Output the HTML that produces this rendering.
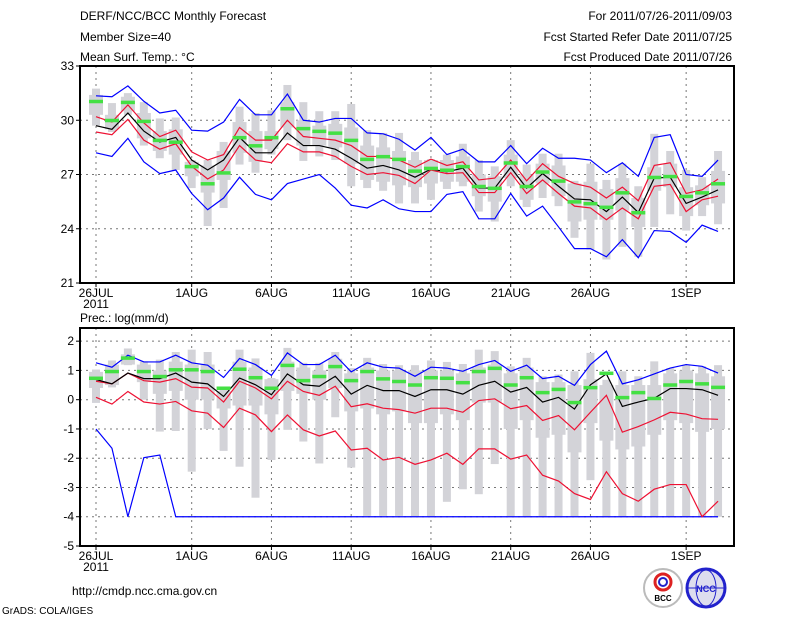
<!DOCTYPE html>
<html><head><meta charset="utf-8"><style>
body{margin:0;background:#fff;width:800px;height:618px;overflow:hidden;font-family:"Liberation Sans",sans-serif}
svg text{font-family:"Liberation Sans",sans-serif;font-size:12px;fill:#000}
</style></head><body>
<svg id="c" width="800" height="618" viewBox="0 0 800 618">
<g>
<text x="80" y="20">DERF/NCC/BCC Monthly Forecast</text>
<text x="80" y="41">Member Size=40</text>
<text x="80" y="61">Mean Surf. Temp.: °C</text>
<text x="732" y="20" text-anchor="end">For 2011/07/26-2011/09/03</text>
<text x="732" y="41" text-anchor="end">Fcst Started Refer Date 2011/07/25</text>
<text x="732" y="61" text-anchor="end">Fcst Produced Date 2011/07/26</text>
<text x="80" y="322">Prec.: log(mm/d)</text>
<text x="72" y="595">http://cmdp.ncc.cma.gov.cn</text>
<text x="2" y="614" style="font-size:10px">GrADS: COLA/IGES</text>
</g>
<g><circle cx="663" cy="588" r="19" fill="#fff" stroke="#bbb" stroke-width="2"/><circle cx="663" cy="582" r="8" fill="none" stroke="#d22" stroke-width="3"/><circle cx="663" cy="582" r="4" fill="none" stroke="#22c" stroke-width="2"/><text x="663" y="601" text-anchor="middle" style="font-size:8px;font-weight:bold">BCC</text></g>
<g><circle cx="706" cy="588" r="19" fill="#dde" stroke="#22c" stroke-width="3"/><ellipse cx="706" cy="588" rx="10" ry="18" fill="none" stroke="#22c"/><line x1="688" y1="588" x2="724" y2="588" stroke="#22c"/><text x="706" y="592" text-anchor="middle" style="font-size:9px;fill:#22c;font-weight:bold">NCC</text></g>
<g id="p1"></g><g id="p2"></g>
</svg>
<script>
const days=[0,1,2,3,4,5,6,7,8,9,10,11,12,13,14,15,16,17,18,19,20,21,22,23,24,25,26,27,28,29,30,31,32,33,34,35,36,37,38,39];
const dateLabels=["26JUL","1AUG","6AUG","11AUG","16AUG","21AUG","26AUG","1SEP"];
const dateDays=[0,6,11,16,21,26,31,37];
const tTicks=[21,24,27,30,33];
const pTicks=[-5,-4,-3,-2,-1,0,1,2];
const tMean=[29.7,29.5,30.4,29.4,28.8,29.05,27.8,27.25,27.8,29.05,28.2,28.2,29.3,28.6,28.6,28.4,27.9,27.35,27.5,27.25,26.85,27.3,27.15,27.35,26.25,26.25,27.4,26.25,27.05,26.35,25.65,25.6,24.95,25.75,24.9,26.8,26.85,25.4,25.75,26.15];
const tRedHi=[30.2,29.9,30.85,29.85,29.1,29.45,28.25,27.8,28.1,29.6,28.9,28.9,30.0,29.1,29.0,28.9,28.6,28.0,28.0,27.8,27.4,27.85,27.5,27.7,26.7,26.8,27.8,26.65,27.6,26.9,26.5,26.3,25.7,26.3,25.55,27.5,27.65,25.95,26.15,26.75];
const tRedLo=[29.35,29.2,30.05,28.9,28.4,28.7,27.45,26.75,27.25,28.6,27.8,27.65,28.7,28.25,28.25,28.0,27.45,27.0,27.1,26.95,26.5,27.25,27.05,27.1,26.0,26.0,27.1,25.95,26.7,25.95,25.25,25.15,24.5,25.15,24.55,26.35,26.45,24.95,25.6,25.8];
const tBlueHi=[31.35,31.3,31.9,31.05,30.4,30.55,29.45,29.4,29.9,31.15,30.3,30.3,31.45,30.0,29.9,30.1,30.1,29.3,29.25,28.95,28.35,29.05,28.1,28.4,27.7,27.7,28.6,27.6,28.45,27.9,27.9,27.8,27.1,27.65,26.9,29.05,29.2,27.0,26.9,27.8];
const tBlueLo=[28.2,28.0,29.0,27.7,27.05,27.25,25.95,25.05,25.7,26.85,25.9,25.6,26.5,26.75,27.0,26.25,25.3,25.15,25.6,25.1,24.95,24.95,25.9,26.05,24.55,24.55,25.95,24.7,25.25,24.1,22.9,22.9,22.45,23.4,22.4,23.9,23.85,23.25,24.2,23.85];
const tGreen=[31.05,30.0,31.0,29.95,28.9,28.8,27.45,26.5,27.1,29.05,28.6,29.05,30.65,29.55,29.4,29.3,28.9,27.85,28.0,27.85,27.2,27.35,27.25,27.45,26.35,26.25,27.65,26.35,27.15,26.65,25.5,25.4,25.2,26.0,24.9,26.85,26.9,25.8,26.0,26.5];
const tMax=[31.75,30.95,31.5,31.0,30.1,30.15,27.8,27.8,28.8,30.75,30.4,30.55,31.95,31.0,30.5,30.5,30.9,29.45,29.3,29.3,28.25,27.85,28.1,28.7,27.8,27.45,28.9,27.55,28.15,28.15,26.65,27.6,26.7,27.6,26.35,29.25,28.3,27.25,26.85,28.3];
const tMin=[29.7,29.35,30.3,28.6,27.9,27.25,26.25,24.15,25.15,27.55,27.1,28.1,28.9,27.75,28.0,27.8,26.35,26.25,26.1,25.4,25.4,25.6,26.2,26.35,24.95,24.4,26.35,25.2,25.7,25.25,23.5,22.85,22.3,23.0,22.45,24.1,24.8,23.9,24.7,24.25];
const tQ3=[31.4,30.3,31.3,30.4,29.4,29.5,27.7,27.5,28.3,29.9,29.4,29.4,31.0,30.0,29.7,29.8,29.6,28.6,28.5,28.3,27.8,27.8,27.8,28.0,27.0,26.9,28.1,27.0,27.6,27.5,26.5,26.6,26.2,26.8,25.7,27.4,27.6,26.3,26.4,27.2];
const tQ1=[30.3,29.5,30.5,29.0,28.3,28.1,26.9,26.0,26.7,28.2,27.7,28.4,29.6,28.6,28.6,28.5,27.6,26.7,26.6,26.4,26.3,26.5,26.6,26.6,25.8,25.5,26.8,25.6,26.5,25.8,24.4,24.5,24.5,25.0,24.1,26.1,26.3,24.7,25.3,25.4];
const pMean=[0.69,0.54,0.91,0.72,0.72,0.91,0.6,0.54,0.11,0.74,0.51,0.17,0.88,0.51,0.46,0.8,0.19,0.49,0.31,0.31,0.11,0.34,0.34,0.19,0.49,0.63,0.26,0.42,-0.08,0.08,-0.32,0.51,0.88,-0.23,-0.08,0.05,0.38,0.38,0.34,0.15];
const pRedHi=[0.63,0.54,0.91,0.65,0.6,0.72,0.43,0.4,-0.08,0.63,0.4,0.03,0.63,0.28,0.15,0.46,-0.24,-0.14,-0.29,-0.34,-0.46,-0.29,-0.29,-0.43,-0.03,0.03,-0.31,-0.2,-0.71,-0.54,-1.03,-0.43,0.15,-1.11,-0.92,-0.69,-0.43,-0.49,-0.65,-0.67];
const pRedLo=[0.08,-0.15,0.28,-0.08,-0.15,-0.06,-0.38,-0.46,-0.95,-0.29,-0.52,-1.09,-0.52,-1.03,-1.24,-1.07,-1.72,-1.66,-2.06,-1.97,-2.21,-2.06,-1.83,-2.21,-1.68,-1.68,-2.03,-1.89,-2.58,-2.78,-3.21,-3.41,-2.46,-3.21,-3.47,-3.06,-2.9,-2.9,-4.0,-3.47];
const pBlueHi=[1.26,1.11,1.52,1.29,1.29,1.52,1.26,1.18,0.76,1.41,1.2,0.83,1.6,1.2,1.2,1.52,0.95,1.26,1.11,1.08,0.8,1.11,1.08,0.97,1.2,1.34,0.97,1.18,0.72,0.8,0.49,1.2,1.66,0.54,0.68,0.88,1.08,1.2,1.14,0.91];
const pBlueLo=[-1.0,-1.66,-4.0,-1.98,-1.89,-4,-4,-4,-4,-4,-4,-4,-4,-4,-4,-4,-4,-4,-4,-4,-4,-4,-4,-4,-4,-4,-4,-4,-4,-4,-4,-4,-4,-4,-4,-4,-4,-4,-4,-4];
const pGreen=[0.74,0.97,1.43,0.97,0.8,1.03,1.03,0.97,0.4,1.05,0.76,0.4,1.18,0.66,0.8,1.14,0.66,0.97,0.72,0.63,0.51,0.76,0.74,0.59,0.97,1.08,0.51,0.76,0.25,0.36,-0.09,0.42,0.91,0.08,0.25,0.05,0.51,0.63,0.55,0.43];
const pMax=[1.03,1.34,1.75,1.31,1.37,1.63,1.71,1.63,0.34,1.71,1.41,0.74,1.77,1.26,1.26,1.63,1.08,1.43,1.22,1.18,1.18,1.34,1.29,1.22,1.71,1.66,1.14,1.43,0.8,0.86,0.97,1.6,0.68,0.97,0.8,1.31,1.08,1.18,1.14,1.18];
const pMin=[-0.11,0.42,1.18,0.0,-1.09,-1.07,-2.46,-1.0,-1.75,-2.29,-3.35,-2.06,-1.03,-1.43,-2.18,-0.6,-2.32,-3.97,-3.97,-3.97,-4,-4,-3.49,-3.06,-3.23,-2.2,-4,-4,-4,-4,-4,-2.75,-4,-4,-4,-4,-4,-4,-4,-4];
const pQ3=[0.95,1.2,1.55,1.2,1.0,1.3,1.2,1.2,0.3,1.3,1.1,0.7,1.3,1.1,1.0,1.4,0.9,1.1,1.0,1.0,1.0,1.0,1.0,0.9,1.1,1.2,0.9,1.1,0.6,0.6,0.5,0.7,0.5,0.5,0.5,0.5,0.9,1.0,0.9,0.8];
const pQ1=[0.4,0.5,1.2,0.6,0.2,0.3,0.0,0.0,-0.3,-0.2,-0.2,-0.5,0.3,0.2,0.0,0.4,-0.4,-0.3,-0.5,-0.4,-0.8,-0.8,-0.5,-0.7,-0.1,-0.1,-1.0,-0.7,-1.3,-1.2,-1.8,-0.8,-1.4,-1.7,-1.6,-1.2,-0.7,-0.8,-1.1,-1.0];

const NS='http://www.w3.org/2000/svg';
const X0=80,X1=734;
function xs(d){return 96+d*15.95;}
function mk(p,tag,at){const e=document.createElementNS(NS,tag);for(const k in at)e.setAttribute(k,at[k]);p.appendChild(e);return e;}
function panel(g,top,bot,vmin,vmax,ticks,series,name){
  const ys=v=>bot-(v-vmin)/(vmax-vmin)*(bot-top);
  // grid
  ticks.forEach(t=>{if(t>vmin&&t<vmax){const l=mk(g,'line',{x1:X0,x2:X1,y1:ys(t),y2:ys(t),stroke:'#777','stroke-dasharray':'2,4','stroke-width':1});
  
  }});
  dateDays.forEach(d=>{const l=mk(g,'line',{x1:xs(d),x2:xs(d),y1:top,y2:bot,stroke:'#777','stroke-dasharray':'2,4','stroke-width':1});
  
  });
  // boxes
  days.forEach(d=>{const x=xs(d);
    const w=mk(g,'rect',{x:x-4,y:ys(series.max[d]),width:8,height:ys(series.min[d])-ys(series.max[d]),fill:'#d3d3d8'});
    
    
    const b=mk(g,'rect',{x:x-7,y:ys(series.q3[d]),width:14,height:Math.max(0,ys(series.q1[d])-ys(series.q3[d])),fill:'#d3d3d8'});
    
    });
  const line=(arr,col,nm)=>{const p=mk(g,'polyline',{points:days.map(d=>xs(d)+','+ys(arr[d])).join(' '),fill:'none',stroke:col,'stroke-width':1.2});
    
    };
  line(series.bhi,'#0000ff','blue-upper-line');line(series.blo,'#0000ff','blue-lower-line');
  line(series.rhi,'#ee1133','red-upper-line');line(series.rlo,'#ee1133','red-lower-line');
  line(series.mean,'#000','ensemble-mean-line');
  days.forEach(d=>{const r=mk(g,'rect',{x:xs(d)-7,y:ys(series.g[d])-1.5,width:14,height:3.5,fill:'#44e044'});
    
    });
  const f=mk(g,'rect',{x:X0,y:top,width:X1-X0,height:bot-top,fill:'none',stroke:'#000','stroke-width':2});
  
  
  ticks.forEach(t=>{const y=ys(t);mk(g,'line',{x1:X0-4,x2:X0,y1:y,y2:y,stroke:'#000'});
    const tx=mk(g,'text',{x:X0-6,y:y+4,'text-anchor':'end'});tx.textContent=t;
    
    });
  dateDays.forEach((d,i)=>{mk(g,'line',{x1:xs(d),x2:xs(d),y1:bot,y2:bot+4,stroke:'#000'});
    const tx=mk(g,'text',{x:xs(d),y:bot+14,'text-anchor':'middle'});tx.textContent=dateLabels[i];
    
    });
  const yr=mk(g,'text',{x:xs(0),y:bot+25,'text-anchor':'middle'});yr.textContent='2011';
  
  
}
const g1=document.getElementById('p1');


const g2=document.getElementById('p2');


panel(g1,66,283,21,33,tTicks,{mean:tMean,rhi:tRedHi,rlo:tRedLo,bhi:tBlueHi,blo:tBlueLo,g:tGreen,max:tMax,min:tMin,q3:tQ3,q1:tQ1},'temperature');
panel(g2,328,546,-5,2.45,pTicks,{mean:pMean,rhi:pRedHi,rlo:pRedLo,bhi:pBlueHi,blo:pBlueLo,g:pGreen,max:pMax,min:pMin,q3:pQ3,q1:pQ1},'precipitation');
</script>
</body></html>
